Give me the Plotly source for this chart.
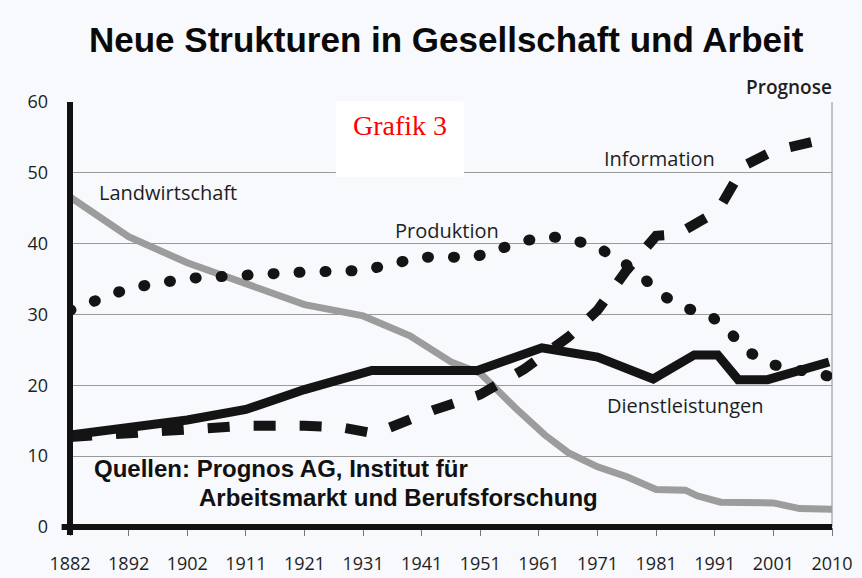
import plotly.graph_objects as go

# ---- tick labels / categories (equally spaced positions on the x axis) ----
years = ["1882", "1892", "1902", "1911", "1921", "1931", "1941",
         "1951", "1961", "1971", "1981", "1991", "2001", "2010"]
tick_pos = list(range(len(years)))

y_ticks = [0, 10, 20, 30, 40, 50, 60]

# ---- series (x = position on the year scale, y = percent) ----
land_x = [0, 1, 2, 3, 4, 5, 5.8, 6.5, 7, 7.6, 8.1, 8.5, 9, 9.5, 10, 10.5, 10.7, 11.1, 12, 12.45, 13]
land_y = [46.6, 41.0, 37.3, 34.3, 31.4, 29.8, 27.0, 23.3, 21.7, 16.8, 13.0, 10.5, 8.5, 7.1, 5.3, 5.2, 4.4, 3.5, 3.4, 2.6, 2.5]

prod_x = [0, 1, 2, 3, 4, 5, 5.5, 6, 6.9, 7.3, 7.75, 8.2, 8.6, 9, 9.45, 9.8, 10.15, 10.55, 10.95, 11.3, 11.6, 12, 13]
prod_y = [30.6, 33.7, 35.1, 35.6, 36.0, 36.2, 37.3, 38.1, 38.1, 39.3, 40.4, 41.0, 40.5, 39.5, 37.3, 35.0, 32.5, 30.8, 29.7, 27.1, 24.6, 22.9, 21.2]

info_x = [0, 1, 2, 3, 4, 4.6, 5.2, 6.2, 7, 7.75, 8.5, 9, 9.5, 10, 10.35, 11.05, 11.5, 12, 13]
info_y = [12.7, 13.2, 13.9, 14.3, 14.3, 14.1, 13.2, 16.5, 18.7, 22.3, 26.8, 30.6, 36.3, 41.1, 41.3, 44.6, 51.0, 53.1, 55.0]

dienst_x = [0, 1, 2, 3, 4, 5.15, 6.95, 8.05, 9, 9.95, 10.65, 11.05, 11.4, 11.9, 12.95]
dienst_y = [13.0, 14.0, 15.1, 16.6, 19.4, 22.1, 22.1, 25.3, 24.0, 20.9, 24.3, 24.3, 20.8, 20.8, 23.3]

BG = "#f7f9fc"
TXT = "#1e1e1e"
SANS = "Open Sans"

fig = go.Figure()
fig.add_trace(go.Scatter(x=land_x, y=land_y, mode="lines", name="Landwirtschaft",
                         line=dict(color="#9c9c9c", width=7), hoverinfo="skip"))
fig.add_trace(go.Scatter(x=prod_x, y=prod_y, mode="lines", name="Produktion",
                         line=dict(color="#141414", width=11, dash="1px,25px"), hoverinfo="skip"))
fig.add_trace(go.Scatter(x=info_x, y=info_y, mode="lines", name="Information",
                         line=dict(color="#141414", width=10, dash="22px,24px"), hoverinfo="skip"))
fig.add_trace(go.Scatter(x=dienst_x, y=dienst_y, mode="lines", name="Dienstleistungen",
                         line=dict(color="#141414", width=9), hoverinfo="skip"))

shapes = [
    # right frame line
    dict(type="line", xref="paper", yref="paper", x0=1, x1=1, y0=0, y1=1,
         line=dict(color="#8c8c8c", width=1), layer="below"),
    # bottom axis (thick)
    dict(type="line", xref="paper", yref="paper", x0=-0.011, x1=1, y0=0, y1=0,
         line=dict(color="#111111", width=6), layer="above"),
    # left axis (thick)
    dict(type="line", xref="paper", yref="paper", x0=0, x1=0, y0=-0.019, y1=1,
         line=dict(color="#111111", width=6), layer="above"),
    # white box behind "Grafik 3"
    dict(type="rect", xref="paper", yref="paper", x0=0.349, x1=0.517, y0=0.824, y1=1.002,
         fillcolor="white", line=dict(width=0), layer="above"),
]

label_font = dict(family=SANS, size=20, color=TXT)
src_font = dict(family="Liberation Sans", size=24, color="#111111")
annotations = [
    dict(text="<b>Neue Strukturen in Gesellschaft und Arbeit</b>", xref="paper", yref="paper",
         x=0.494, y=1.146, xanchor="center", yanchor="middle", showarrow=False,
         font=dict(family="Liberation Sans", size=35, color="#0a0a0a")),
    dict(text="Prognose", xref="paper", yref="paper", x=1.002, y=1.035,
         xanchor="right", yanchor="middle", showarrow=False,
         font=dict(family=SANS, size=19, color=TXT, weight=600)),
    dict(text="Grafik 3", xref="paper", yref="paper", x=0.433, y=0.944,
         xanchor="center", yanchor="middle", showarrow=False,
         font=dict(family="Liberation Serif", size=28, color="#ff0000")),
    dict(text="Landwirtschaft", x=0.46, y=47.2, xanchor="left", yanchor="middle",
         showarrow=False, font=label_font),
    dict(text="Produktion", x=5.51, y=41.9, xanchor="left", yanchor="middle",
         showarrow=False, font=label_font),
    dict(text="Information", x=9.07, y=52.0, xanchor="left", yanchor="middle",
         showarrow=False, font=label_font),
    dict(text="Dienstleistungen", x=9.13, y=17.1, xanchor="left", yanchor="middle",
         showarrow=False, font=label_font),
    dict(text="<b>Quellen: Prognos AG, Institut für</b>", x=0.375, y=8.3,
         xanchor="left", yanchor="middle", showarrow=False, font=src_font),
    dict(text="<b>Arbeitsmarkt und Berufsforschung</b>", x=2.17, y=4.2,
         xanchor="left", yanchor="middle", showarrow=False, font=src_font),
]

fig.update_layout(
    width=862, height=578,
    margin=dict(l=70, r=30, t=102, b=51, autoexpand=False),
    paper_bgcolor=BG, plot_bgcolor=BG,
    showlegend=False,
    shapes=shapes,
    annotations=annotations,
    xaxis=dict(range=[0, 13], tickvals=tick_pos, ticktext=years, showgrid=False,
               zeroline=False, showline=False, ticks="outside", ticklen=8,
               tickcolor="#777777", tickwidth=1, ticklabelstandoff=12,
               automargin=False,
               tickfont=dict(family=SANS, size=18, color=TXT), fixedrange=True),
    yaxis=dict(range=[0, 60], tickvals=y_ticks, showgrid=True, gridcolor="#9a9a9a",
               gridwidth=1, zeroline=False, showline=False, ticks="",
               ticklabelstandoff=21, automargin=False,
               tickfont=dict(family=SANS, size=18, color=TXT), fixedrange=True),
)

post = """
document.body.style.margin='0';
document.body.style.background='#f7f9fc';
var s=document.createElement('style');
s.textContent='body{margin:0;overflow:hidden;} .scatterlayer .trace:nth-child(2) path.js-line{stroke-linecap:round;}';
document.head.appendChild(s);
"""

fig.write_html("out.html", post_script=post, config={"displayModeBar": False})
